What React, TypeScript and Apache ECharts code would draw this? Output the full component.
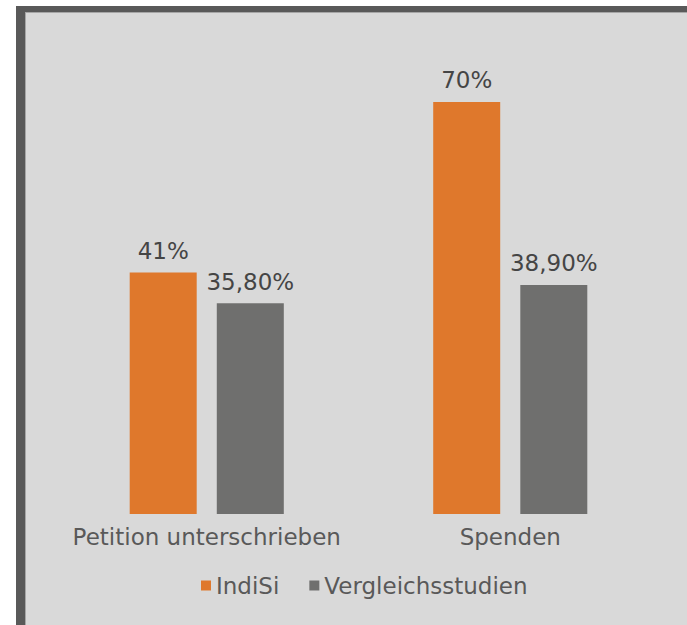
import React, { useEffect, useRef } from "react";
import * as echarts from "echarts";

const categories = ["Petition unterschrieben", "Spenden"];
const indiSi = [41, 70];
const vergleich = [35.8, 38.9];
const indiSiLabels = ["41%", "70%"];
const vergleichLabels = ["35,80%", "38,90%"];

export default function App() {
  const ref = useRef<HTMLDivElement>(null);
  useEffect(() => {
    const chart = echarts.init(ref.current!, null, { renderer: "svg" });
    const font = "DejaVu Sans";
    const labelStyle = {
      show: true,
      position: "top",
      distance: 10,
      color: "#454545",
      fontSize: 23,
      fontFamily: font,
    };
    chart.setOption({
      animation: false,
      backgroundColor: "#ffffff",
      graphic: [
        { type: "rect", z: -10, shape: { x: 16, y: 6, width: 671, height: 619 }, style: { fill: "#595959" } },
        { type: "rect", z: -9, shape: { x: 25, y: 12, width: 662, height: 613 }, style: { fill: "#a6a6a6" } },
        { type: "rect", z: -8, shape: { x: 26, y: 13, width: 661, height: 612 }, style: { fill: "#d9d9d9" } },
      ],
      grid: { left: 55, right: 25, top: 43, bottom: 111, containLabel: false },
      xAxis: {
        type: "category",
        data: categories,
        axisLine: { show: false },
        axisTick: { show: false },
        axisLabel: { color: "#595959", fontSize: 23, fontFamily: font, margin: 11, interval: 0 },
      },
      yAxis: { type: "value", min: 0, max: 80, show: false, splitLine: { show: false } },
      legend: {
        top: 569,
        left: 196,
        icon: "rect",
        itemWidth: 10,
        itemHeight: 10,
        itemGap: 30,
        textStyle: { color: "#595959", fontSize: 23, fontFamily: font },
        data: ["IndiSi", "Vergleichsstudien"],
      },
      series: [
        {
          name: "IndiSi",
          type: "bar",
          data: indiSi,
          barWidth: 67,
          barGap: "30%",
          itemStyle: { color: "#df782c" },
          label: { ...labelStyle, formatter: (p: any) => indiSiLabels[p.dataIndex] },
        },
        {
          name: "Vergleichsstudien",
          type: "bar",
          data: vergleich,
          barWidth: 67,
          barGap: "30%",
          itemStyle: { color: "#6f6f6e" },
          label: { ...labelStyle, formatter: (p: any) => vergleichLabels[p.dataIndex] },
        },
      ],
    });
    return () => chart.dispose();
  }, []);
  return (
    <div
      ref={ref}
      style={{ position: "fixed", left: 0, top: 0, width: 687, height: 625 }}
    />
  );
}
